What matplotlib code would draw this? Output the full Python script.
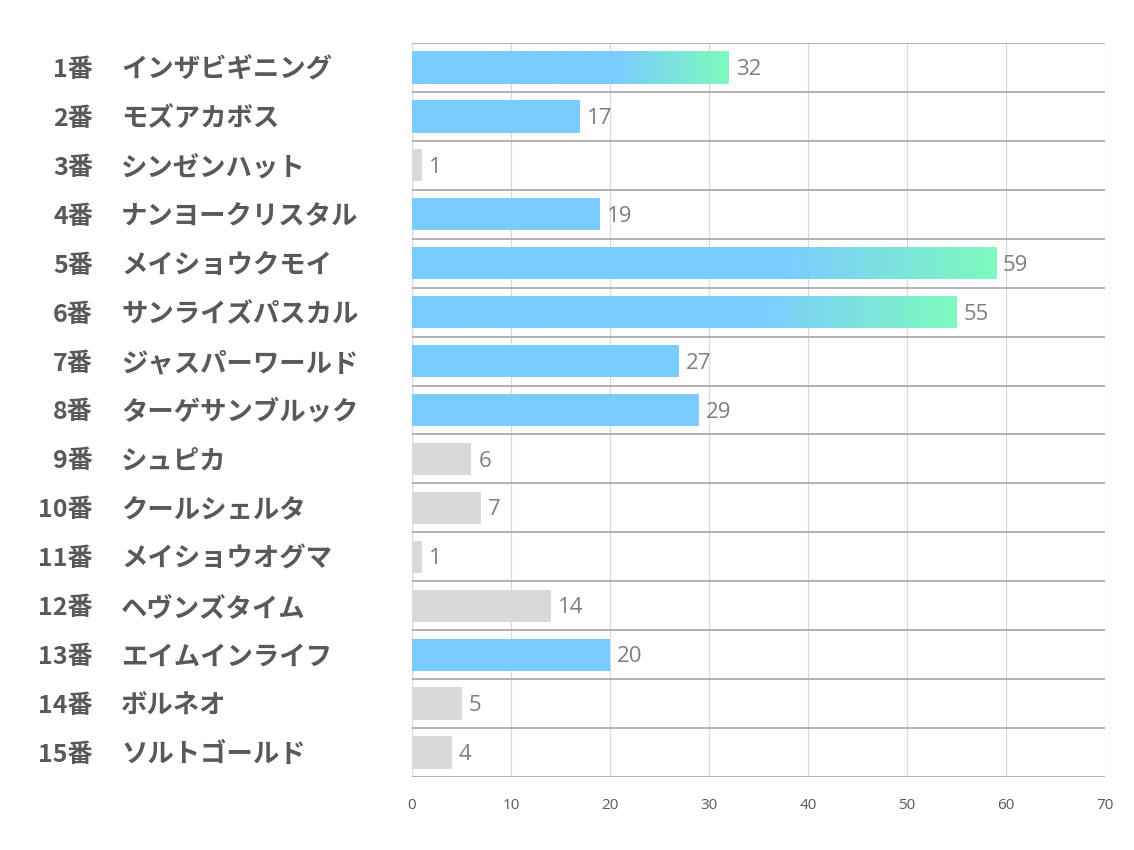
import matplotlib
matplotlib.use("Agg")
import matplotlib.pyplot as plt
import matplotlib.transforms as mtrans
from matplotlib.colors import LinearSegmentedColormap
import numpy as np

plt.rcParams['font.family'] = ['Noto Sans CJK JP', 'DejaVu Sans']

numbers = ["1番", "2番", "3番", "4番", "5番", "6番", "7番", "8番", "9番", "10番",
           "11番", "12番", "13番", "14番", "15番"]
names = ["インザビギニング", "モズアカボス", "シンゼンハット", "ナンヨークリスタル",
         "メイショウクモイ", "サンライズパスカル", "ジャスパーワールド", "ターゲサンブルック",
         "シュピカ", "クールシェルタ", "メイショウオグマ", "ヘヴンズタイム",
         "エイムインライフ", "ボルネオ", "ソルトゴールド"]
values = [32, 17, 1, 19, 59, 55, 27, 29, 6, 7, 1, 14, 20, 5, 4]
highlight = [True, True, False, True, True, True, True, True,
             False, False, False, False, True, False, False]
gradient = [True, False, False, False, True, True, False, False,
            False, False, False, False, False, False, False]

BLUE = "#7ACCFF"
GREEN = "#7DFABD"
GRAY = "#D9D9D9"
TEXT = "#595959"

fig = plt.figure(figsize=(11.34, 8.5), dpi=100)
ax = fig.add_axes([412 / 1134, 1 - 777 / 850, 693 / 1134, 734 / 850])

y = np.arange(len(values))
h = 0.66
cmap = LinearSegmentedColormap.from_list("bg", [(0, BLUE), (0.64, BLUE), (1, GREEN)])

for i, v in enumerate(values):
    col = BLUE if highlight[i] else GRAY
    bar = ax.barh(y[i], v, height=h, color=col, zorder=3)[0]
    if gradient[i]:
        grad = np.linspace(0, 1, 256).reshape(1, -1)
        im = ax.imshow(grad, cmap=cmap, aspect="auto", zorder=4,
                       extent=[0, v, y[i] + h / 2, y[i] - h / 2])
        im.set_clip_path(bar)
    ax.annotate(str(v), (v, y[i]), xytext=(5, -1.5), textcoords="offset points",
                va="center", ha="left", fontsize=16, color="#7F7F7F",
                family=["Open Sans", "DejaVu Sans"])

ax.set_xlim(0, 70)
ax.set_ylim(len(values) - 0.5, -0.5)
ax.set_xticks(np.arange(0, 71, 10))
ax.set_yticks([])
ax.tick_params(axis="x", length=0, pad=15, labelsize=11, labelcolor=TEXT)
for lbl in ax.get_xticklabels():
    lbl.set_family(["Open Sans", "DejaVu Sans"])

for xv in np.arange(0, 71, 10):
    ax.axvline(xv, color="#D9D9D9", lw=0.9, zorder=1)
for yb in np.arange(-0.5, len(values), 1.0):
    ax.axhline(yb, color="#A6A6A6", lw=1.2, zorder=2)
for s in ax.spines.values():
    s.set_visible(False)

tr = mtrans.blended_transform_factory(fig.transFigure, ax.transData)
for i in range(len(values)):
    fig.text(93 / 1134, y[i] + 0.05, numbers[i], transform=tr, ha="right", va="center",
             fontsize=18, fontweight="bold", color=TEXT)
    fig.text(121 / 1134, y[i] + 0.05, names[i], transform=tr, ha="left", va="center",
             fontsize=19, fontweight="bold", color=TEXT)

fig.savefig("out.png", dpi=100)
